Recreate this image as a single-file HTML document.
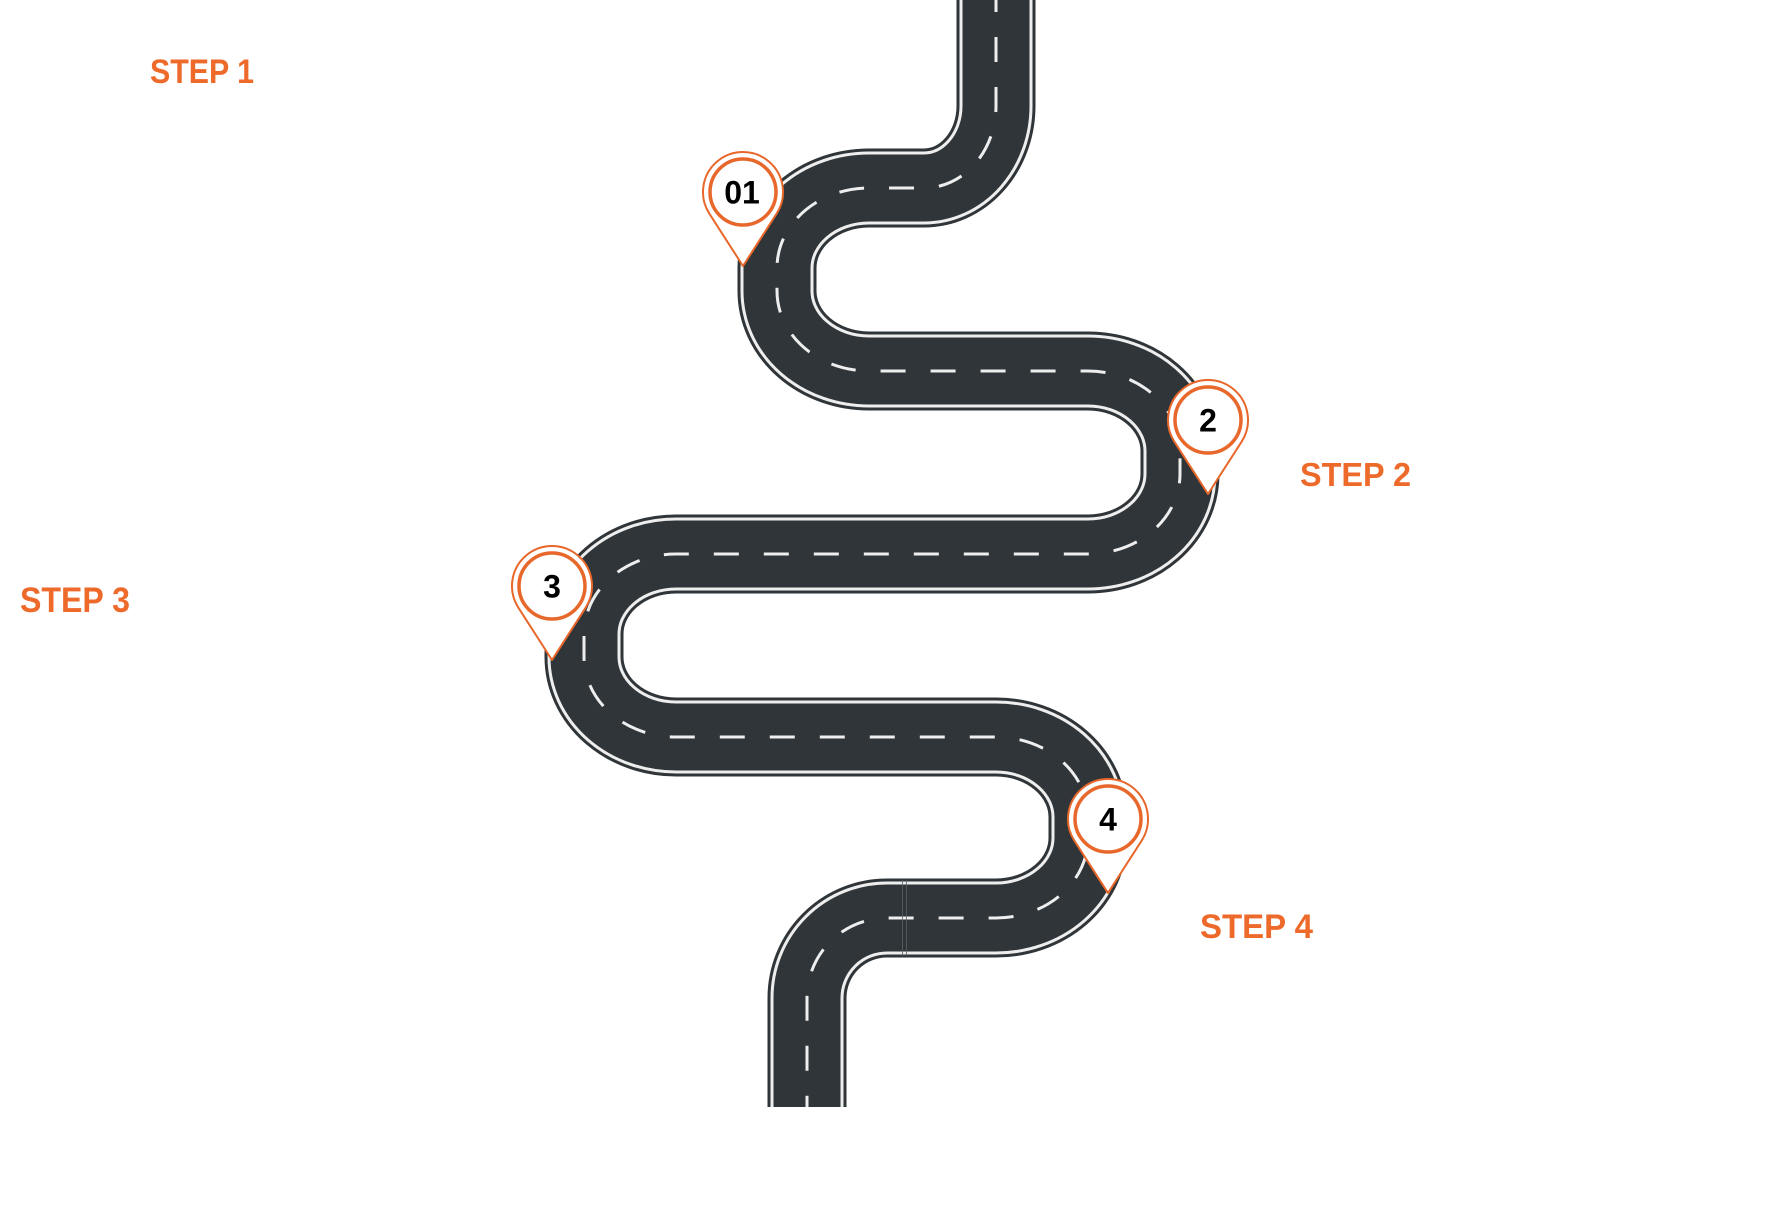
<!DOCTYPE html>
<html>
<head>
<meta charset="utf-8">
<style>
  html, body { margin: 0; padding: 0; background: #ffffff; }
  body { width: 1789px; height: 1224px; overflow: hidden; }
  svg { display: block; }
  .lbl { font-family: "Liberation Sans", "DejaVu Sans", sans-serif; font-weight: bold; fill: #EE6A2B; }
  .num { font-family: "Liberation Sans", "DejaVu Sans", sans-serif; font-weight: bold; fill: #000; font-size: 32px; }
</style>
</head>
<body>
<svg width="1789" height="1224" viewBox="0 0 1789 1224" xmlns="http://www.w3.org/2000/svg">
  <defs>
    <path id="road" d="M 996 0 L 996 106 A 72 82 0 0 1 924 188 L 869 188 A 92 80 0 0 0 777 268 L 777 291 A 92 80 0 0 0 869 371 L 1088 371 A 92 80 0 0 1 1180 451 L 1180 474 A 92 80 0 0 1 1088 554 L 676 554 A 92 80 0 0 0 584 634 L 584 657 A 92 80 0 0 0 676 737 L 996 737 A 92 80 0 0 1 1088 817 L 1088 838 A 92 80 0 0 1 996 918 L 887 918 A 80 80 0 0 0 807 998 L 807 1107"/>
  </defs>

  <!-- road layers -->
  <use href="#road" fill="none" stroke="#2f3538" stroke-width="79" stroke-linecap="butt" stroke-linejoin="round"/>
  <use href="#road" fill="none" stroke="#eeeeee" stroke-width="73" stroke-linecap="butt" stroke-linejoin="round"/>
  <use href="#road" fill="none" stroke="#2f3538" stroke-width="67" stroke-linecap="butt" stroke-linejoin="round"/>
  <use href="#road" fill="none" stroke="#eeeeee" stroke-width="3" stroke-dasharray="25 25" stroke-dashoffset="13"/>

  <!-- faint seam on bottom road -->
  <line x1="902.5" y1="880" x2="902.5" y2="956" stroke="#5a6064" stroke-width="0.8"/>
  <line x1="906.5" y1="880" x2="906.5" y2="956" stroke="#5a6064" stroke-width="0.8"/>

  <!-- Pin 01 -->
  <g transform="translate(743,192)">
    <path d="M -33.7 21.6 A 40 40 0 1 1 33.7 21.6 L 0 74 Z" fill="#ffffff" stroke="#E8672A" stroke-width="2" stroke-linejoin="round"/>
    <circle cx="0" cy="0" r="33" fill="#ffffff" stroke="#E8672A" stroke-width="3.5"/>
    <text class="num" x="-1" y="11.5" text-anchor="middle">01</text>
  </g>

  <!-- Pin 2 -->
  <g transform="translate(1208,420)">
    <path d="M -33.7 21.6 A 40 40 0 1 1 33.7 21.6 L 0 74 Z" fill="#ffffff" stroke="#E8672A" stroke-width="2" stroke-linejoin="round"/>
    <circle cx="0" cy="0" r="33" fill="#ffffff" stroke="#E8672A" stroke-width="3.5"/>
    <text class="num" x="0" y="11.5" text-anchor="middle">2</text>
  </g>

  <!-- Pin 3 -->
  <g transform="translate(552,586)">
    <path d="M -33.7 21.6 A 40 40 0 1 1 33.7 21.6 L 0 74 Z" fill="#ffffff" stroke="#E8672A" stroke-width="2" stroke-linejoin="round"/>
    <circle cx="0" cy="0" r="33" fill="#ffffff" stroke="#E8672A" stroke-width="3.5"/>
    <text class="num" x="0" y="11.5" text-anchor="middle">3</text>
  </g>

  <!-- Pin 4 -->
  <g transform="translate(1108,819)">
    <path d="M -33.7 21.6 A 40 40 0 1 1 33.7 21.6 L 0 74 Z" fill="#ffffff" stroke="#E8672A" stroke-width="2" stroke-linejoin="round"/>
    <circle cx="0" cy="0" r="33" fill="#ffffff" stroke="#E8672A" stroke-width="3.5"/>
    <text class="num" x="0" y="11.5" text-anchor="middle">4</text>
  </g>

  <!-- Step labels -->
  <text class="lbl" x="150" y="83" font-size="34.5" textLength="104" lengthAdjust="spacingAndGlyphs">STEP 1</text>
  <text class="lbl" x="1300" y="486" font-size="33" textLength="111" lengthAdjust="spacingAndGlyphs">STEP 2</text>
  <text class="lbl" x="20" y="612" font-size="35" textLength="110" lengthAdjust="spacingAndGlyphs">STEP 3</text>
  <text class="lbl" x="1200" y="938" font-size="34.5" textLength="113" lengthAdjust="spacingAndGlyphs">STEP 4</text>
</svg>
</body>
</html>
